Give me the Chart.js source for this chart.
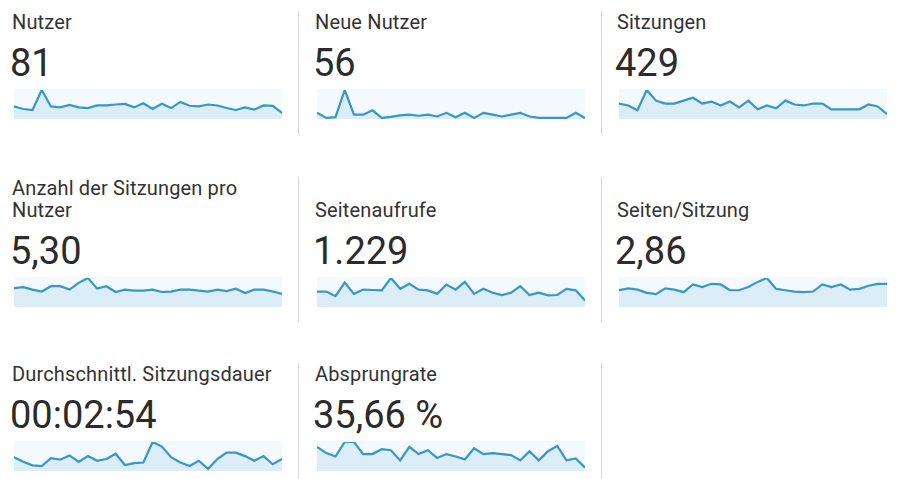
<!DOCTYPE html>
<html lang="de">
<head>
<meta charset="utf-8">
<title>Übersicht</title>
<script src="https://cdn.jsdelivr.net/npm/chart.js@4.4.1/dist/chart.umd.min.js"></script>
<style>
  html, body { margin: 0; padding: 0; background: #fff; }
  body { width: 898px; height: 479px; position: relative; overflow: hidden; font-family: Roboto, "Noto Sans", Arial, sans-serif; }
  .cell { position: absolute; width: 298px; padding-bottom: 15px; box-sizing: content-box; }
  .cell.border { border-right: 1px solid #d4d4d4; }
  .title { font-size: 20px; letter-spacing: 0.15px; line-height: 22px; color: #333; padding-left: 12px; display: flex; align-items: flex-end; width: 276px; }
  .value { font-size: 38px; font-weight: 400; line-height: 40px; color: #2b2b2b; padding-left: 10px; margin-top: 10px; }
  .spark { display: block; margin-top: 6px; margin-left: 14px; background: #f3f9fd; }
</style>
</head>
<body>
<script>
const days = ['1','2','3','4','5','6','7','8','9','10','11','12','13','14','15',
              '16','17','18','19','20','21','22','23','24','25','26','27','28','29','30'];

const titles = ['Nutzer', 'Neue Nutzer', 'Sitzungen',
                'Anzahl der Sitzungen pro Nutzer', 'Seitenaufrufe', 'Seiten/Sitzung',
                'Durchschnittl. Sitzungsdauer', 'Absprungrate'];
const totals = ['81', '56', '429', '5,30', '1.229', '2,86', '00:02:54', '35,66 %'];

const nutzer = [3.9,3.1,2.8,9,3.9,3.6,4.4,3.6,3.4,4.2,4.2,4.5,4.7,3.6,4.9,3.1,4.7,3.4,5.3,4.1,3.9,4.5,4.2,3.4,2.8,3.6,2.9,4.2,4.1,1.9];
const neueNutzer = [1.7,0.3,0.5,8,1.2,1.2,2.4,0.3,0.6,1.0,1.2,0.9,1.2,0.7,1.7,0.5,1.7,0.3,1.7,1.2,0.7,1.2,1.7,0.7,0.3,0.3,0.3,0.3,1.7,0.3];
const sitzungen = [16,14,9,30,19,16,16,19,22,16,18,14,18,12,19,10,14,11,19,15,14,16,16,10,10,10,10,15,13,5];
const sitzungenProNutzer = [3.9,4.1,3.6,3.2,4.3,4.3,3.6,5.0,6.0,3.8,4.3,3.1,3.6,3.4,3.4,3.6,3.1,3.2,3.6,3.6,3.4,3.2,3.6,3.3,3.8,2.9,3.6,3.6,3.2,2.7];
const seitenaufrufe = [40,40,28,63,34,45,44,43,75,47,60,45,43,34,58,45,65,34,47,37,31,37,54,31,37,30,31,47,43,17];
const seitenProSitzung = [2.6,2.9,2.7,2.2,2.0,2.9,2.7,2.3,3.5,3.1,3.6,3.5,2.6,2.6,3.1,3.9,4.5,2.8,2.6,2.4,2.3,2.4,3.5,3.1,3.5,2.7,2.8,3.3,3.6,3.6];
const sitzungsdauer = [143,95,59,51,132,117,161,95,154,106,124,179,62,81,88,300,253,143,88,51,106,22,124,190,190,154,106,154,70,124];
const absprungrate = [50,37,30,60,60,35,35,45,43,22,50,35,43,27,35,30,24,47,35,37,35,33,22,41,22,41,52,22,26,7];

const series = [nutzer, neueNutzer, sitzungen, sitzungenProNutzer, seitenaufrufe, seitenProSitzung, sitzungsdauer, absprungrate];

// layout of the grid
const rowTops = [11, 177, 363];
const rowTitleLines = [1, 2, 1];
const colLefts = [0, 303, 605];

series.forEach((data, i) => {
  const row = Math.floor(i / 3);
  const col = i % 3;

  const cell = document.createElement('div');
  cell.className = 'cell' + (col < 2 ? ' border' : '');
  cell.style.top = rowTops[row] + 'px';
  cell.style.left = colLefts[col] + 'px';
  if (row === 2) cell.style.height = '200px';

  const t = document.createElement('div');
  t.className = 'title';
  t.style.height = (22 * rowTitleLines[row]) + 'px';
  const span = document.createElement('span');
  span.textContent = titles[i];
  t.appendChild(span);

  const v = document.createElement('div');
  v.className = 'value';
  v.textContent = totals[i];

  const canvas = document.createElement('canvas');
  canvas.className = 'spark';
  canvas.width = 268;
  canvas.height = 30;

  cell.appendChild(t);
  cell.appendChild(v);
  cell.appendChild(canvas);
  document.body.appendChild(cell);

  new Chart(canvas.getContext('2d'), {
    type: 'line',
    data: {
      labels: days,
      datasets: [{
        data: data,
        borderColor: '#3797c8',
        backgroundColor: 'rgba(80, 165, 215, 0.15)',
        borderWidth: 2.2,
        pointRadius: 0,
        tension: 0,
        fill: 'origin'
      }]
    },
    options: {
      responsive: false,
      animation: false,
      events: [],
      layout: { padding: { top: 1, bottom: 0, left: 0, right: 0 } },
      plugins: { legend: { display: false }, tooltip: { enabled: false } },
      scales: {
        x: { display: false },
        y: { display: false, min: 0, max: Math.max(...data) }
      }
    }
  });
});
</script>
</body>
</html>
